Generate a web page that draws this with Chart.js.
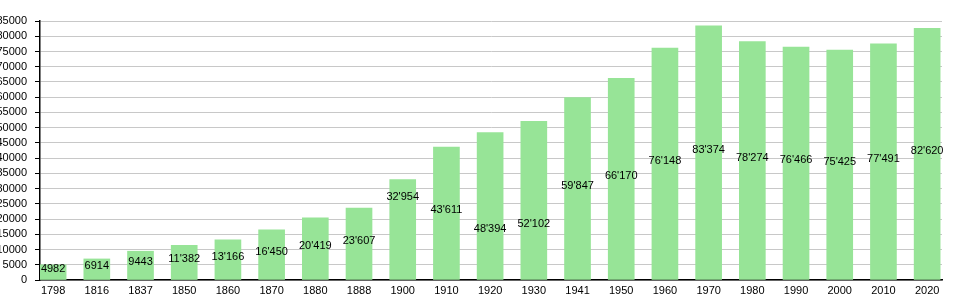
<!DOCTYPE html>
<html>
<head>
<meta charset="utf-8">
<script src="https://cdn.jsdelivr.net/npm/chart.js@4"></script>
<style>
  html, body { margin: 0; padding: 0; background: #fff; }
  canvas { display: block; }
</style>
</head>
<body>
<canvas id="popChart" width="975" height="300"></canvas>
<script>
const years = ["1798", "1816", "1837", "1850", "1860", "1870", "1880", "1888", "1900", "1910", "1920",
  "1930", "1941", "1950", "1960", "1970", "1980", "1990", "2000", "2010", "2020"];
const population = [4982, 6914, 9443, 11382, 13166, 16450, 20419, 23607, 32954, 43611, 48394,
  52102, 59847, 66170, 76148, 83374, 78274, 76466, 75425, 77491, 82620];
const yTicks = { min: 0, max: 85000, step: 5000 };

// labels nudged where the original moved them to avoid neighbours
const labelNudge = { 8: -30, 10: 26, 11: 27 };

function fmt(v) {
  return v >= 10000 ? String(v).replace(/\B(?=(\d{3})+(?!\d))/g, "'") : String(v);
}

const barLabels = {
  id: "barLabels",
  afterDatasetsDraw(chart) {
    const { ctx } = chart;
    const meta = chart.getDatasetMeta(0);
    ctx.save();
    ctx.font = "11px 'Liberation Sans', Arial, sans-serif";
    ctx.fillStyle = "#000";
    ctx.textAlign = "center";
    ctx.textBaseline = "middle";
    meta.data.forEach((bar, i) => {
      const y = (bar.y + bar.base) / 2 - 3 + (labelNudge[i] || 0);
      ctx.fillText(fmt(population[i]), bar.x, y);
    });
    ctx.restore();
  }
};

new Chart(document.getElementById("popChart"), {
  type: "bar",
  data: {
    datasets: [{
      data: population.map((v, i) => ({ x: i, y: v })),
      backgroundColor: "#97e497",
      borderWidth: 0,
      barThickness: 26
    }]
  },
  options: {
    responsive: false,
    animation: false,
    layout: { padding: { top: 21, right: 33, bottom: 0, left: 0 } },
    plugins: { legend: { display: false }, tooltip: { enabled: false } },
    scales: {
      x: {
        type: "linear",
        offset: false,
        min: -0.3,
        max: 20.34,
        grid: { display: false, drawTicks: false },
        border: { color: "#000", width: 1.5 },
        afterBuildTicks: (scale) => { scale.ticks = years.map((_, i) => ({ value: i })); },
        afterFit: (scale) => { scale.height = 20; },
        ticks: {
          padding: 4,
          color: "#000",
          font: { family: "'Liberation Sans', Arial, sans-serif", size: 11 },
          maxRotation: 0,
          autoSkip: false,
          callback: (v) => years[v]
        }
      },
      y: {
        min: yTicks.min,
        max: yTicks.max,
        grid: { color: "#c8c8c8", tickColor: "#000", tickLength: 5 },
        border: { color: "#000", width: 1.5 },
        afterFit: (scale) => { scale.width = 40; },
        ticks: {
          stepSize: yTicks.step,
          autoSkip: false,
          padding: 8,
          color: "#000",
          font: { family: "'Liberation Sans', Arial, sans-serif", size: 11 },
          callback: (v) => String(v)
        }
      }
    }
  },
  plugins: [barLabels]
});
</script>
</body>
</html>
